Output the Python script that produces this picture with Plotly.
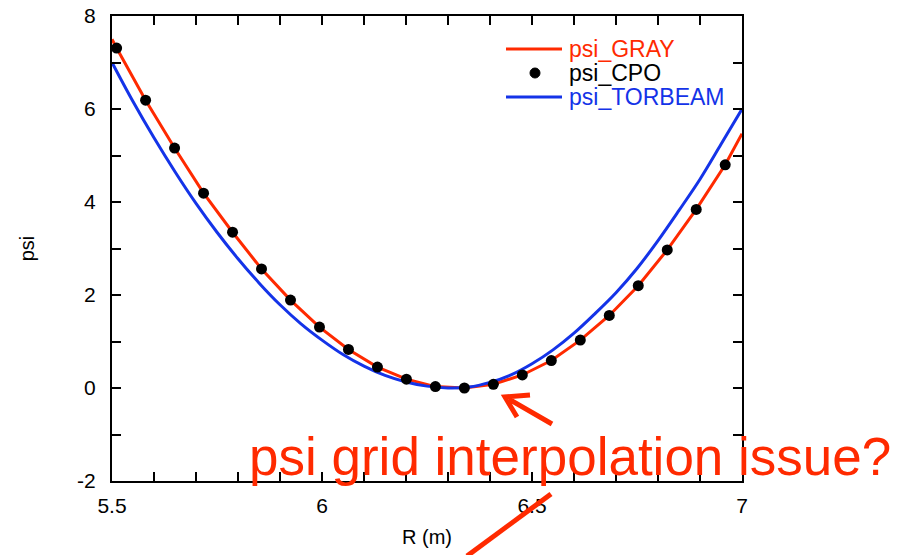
import plotly.graph_objects as go

# Major radius grid (m) and poloidal flux values
R_CPO = [5.511, 5.580, 5.649, 5.718, 5.787, 5.856, 5.925, 5.994, 6.063, 6.132, 6.201,
         6.270, 6.339, 6.408, 6.477, 6.546, 6.615, 6.684, 6.753, 6.822, 6.891, 6.960]
psi_CPO = [7.31, 6.19, 5.16, 4.19, 3.35, 2.56, 1.89, 1.31, 0.83, 0.45, 0.19,
           0.03, 0.00, 0.08, 0.28, 0.59, 1.03, 1.56, 2.20, 2.97, 3.84, 4.80]

R_GRAY = [5.50, 5.511, 5.580, 5.649, 5.718, 5.787, 5.856, 5.925, 5.994, 6.063, 6.132, 6.201,
          6.270, 6.339, 6.408, 6.477, 6.546, 6.615, 6.684, 6.753, 6.822, 6.891, 6.960, 7.00]
psi_GRAY = [7.50, 7.31, 6.19, 5.16, 4.19, 3.35, 2.56, 1.89, 1.31, 0.83, 0.45, 0.19,
            0.03, 0.00, 0.08, 0.28, 0.59, 1.03, 1.56, 2.20, 2.97, 3.84, 4.80, 5.47]

R_TORBEAM = [5.50, 5.55, 5.60, 5.65, 5.70, 5.75, 5.80, 5.85, 5.90, 5.95, 6.00,
             6.05, 6.10, 6.15, 6.20, 6.25, 6.30, 6.35, 6.40, 6.45, 6.50,
             6.55, 6.60, 6.65, 6.70, 6.75, 6.80, 6.85, 6.90, 6.95, 7.00]
psi_TORBEAM = [7.00, 6.16, 5.38, 4.65, 3.97, 3.35, 2.78, 2.26, 1.79, 1.38, 1.03,
               0.72, 0.47, 0.27, 0.13, 0.04, 0.00, 0.02, 0.12, 0.28, 0.52,
               0.82, 1.18, 1.60, 2.05, 2.57, 3.17, 3.82, 4.49, 5.24, 6.00]

x_ticks = [5.5, 5.6, 5.7, 5.8, 5.9, 6.0, 6.1, 6.2, 6.3, 6.4, 6.5, 6.6, 6.7, 6.8, 6.9, 7.0]
x_labels = ["5.5", "", "", "", "", "6", "", "", "", "", "6.5", "", "", "", "", "7"]
y_ticks = [-2, -1, 0, 1, 2, 3, 4, 5, 6, 7, 8]
y_labels = ["-2", "", "0", "", "2", "", "4", "", "6", "", "8"]

RED = "#ff2a00"
BLUE = "#1433e8"
FONT = "Liberation Sans, Arial, Helvetica, sans-serif"

# plot frame in pixels (left, right, top, bottom)
L, Rr, T, B = 112, 742, 16, 481


def px(x):
    return (x - L) / (Rr - L)


def py(y):
    return (B - y) / (B - T)


fig = go.Figure()
fig.add_trace(go.Scatter(x=R_GRAY, y=psi_GRAY, mode="lines", name="psi_GRAY",
                         line=dict(color=RED, width=3), showlegend=False))
fig.add_trace(go.Scatter(x=R_TORBEAM, y=psi_TORBEAM, mode="lines", name="psi_TORBEAM",
                         line=dict(color=BLUE, width=3, shape="spline"), showlegend=False))
fig.add_trace(go.Scatter(x=R_CPO, y=psi_CPO, mode="markers", name="psi_CPO",
                         marker=dict(color="black", size=11), showlegend=False))

axis_common = dict(showline=True, linecolor="black", linewidth=2, mirror="ticks",
                   ticks="inside", ticklen=9, tickwidth=1.5, tickcolor="black",
                   showgrid=False, zeroline=False, automargin=False,
                   tickfont=dict(family=FONT, size=21, color="black"))

fig.update_layout(
    width=904, height=555,
    margin=dict(l=L, r=904 - Rr, t=T, b=555 - B),
    paper_bgcolor="white", plot_bgcolor="white",
    xaxis=dict(range=[5.5, 7.0], tickvals=x_ticks, ticktext=x_labels,
               title=dict(text="R (m)", font=dict(family=FONT, size=20, color="black"),
                          standoff=14),
               ticklabelstandoff=5, **axis_common),
    yaxis=dict(range=[-2, 8], tickvals=y_ticks, ticktext=y_labels,
               title=dict(text="psi", font=dict(family=FONT, size=20, color="black"),
                          standoff=37),
               ticklabelstandoff=10, **axis_common),
    showlegend=False,
)

# legend drawn as line samples, a dot and coloured labels
legend_rows = [("psi_GRAY", RED, "line", 49),
               ("psi_CPO", "black", "dot", 73),
               ("psi_TORBEAM", BLUE, "line", 97)]
shapes = []
annotations = []
for label, color, kind, yy in legend_rows:
    if kind == "line":
        shapes.append(dict(type="line", xref="paper", yref="paper",
                           x0=px(506), x1=px(562), y0=py(yy), y1=py(yy),
                           line=dict(color=color, width=3)))
    else:
        shapes.append(dict(type="circle", xref="paper", yref="paper",
                           x0=px(530), x1=px(540), y0=py(yy + 5), y1=py(yy - 5),
                           fillcolor="black", line=dict(color="black", width=1)))
    annotations.append(dict(text=label, xref="paper", yref="paper", x=px(567), y=py(yy),
                            xanchor="left", yanchor="middle", showarrow=False,
                            font=dict(family=FONT, size=23, color=color)))

# comment text with arrows
annotations.append(dict(text="psi grid interpolation issue?", xref="paper", yref="paper",
                        x=px(247), y=py(456), xanchor="left", yanchor="middle",
                        showarrow=False, font=dict(family=FONT, size=53, color=RED)))

arrow_path = (f"M {px(552)},{py(424)} L {px(505)},{py(397)} "
              f"M {px(530)},{py(395)} L {px(505)},{py(397)} L {px(517)},{py(417)}")
shapes.append(dict(type="path", xref="paper", yref="paper", path=arrow_path,
                   line=dict(color=RED, width=5)))
shapes.append(dict(type="line", xref="paper", yref="paper",
                   x0=px(467), y0=py(556), x1=px(551), y1=py(494),
                   line=dict(color=RED, width=5)))

fig.update_layout(shapes=shapes, annotations=annotations)

fig.write_html("out.html")
